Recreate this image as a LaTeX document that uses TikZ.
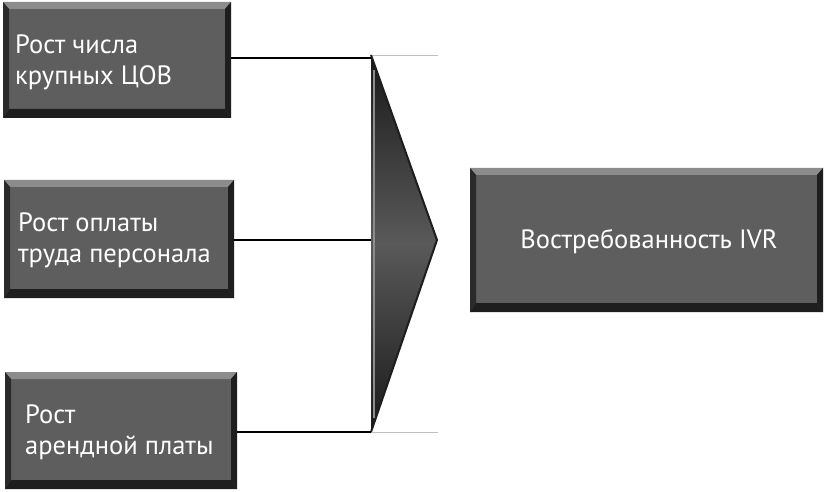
\documentclass[tikz,border=0pt]{standalone}
\usepackage{fontspec}
\setmainfont{PT Sans}
\begin{document}
\begin{tikzpicture}[x=1pt,y=-1pt,
  boxtext/.style={text=white,font=\fontsize{26.5}{31}\selectfont,align=left,anchor=west,inner sep=0pt}]
\definecolor{boxgray}{HTML}{5E5E5E}
\definecolor{boxlight}{HTML}{8C8C8C}
\definecolor{boxdark}{HTML}{1E1E1E}
\useasboundingbox (0,0) rectangle (825,492);
\fill[white] (0,0) rectangle (825,492);
% bevel box macro
\newcommand{\bevbox}[5]{% name, x1,y1,x2,y2
  \fill[boxgray] (#2,#3) rectangle (#4,#5);
  \fill[boxlight] (#2,#3) -- (#4,#3) -- (#4-6,#3+7) -- (#2+6,#3+7) -- cycle;
  \fill[boxdark] (#2,#5) -- (#4,#5) -- (#4-6,#5-9) -- (#2+6,#5-9) -- cycle;
  \fill[boxdark] (#4,#3) -- (#4,#5) -- (#4-6,#5-9) -- (#4-6,#3+7) -- cycle;
  \fill[black!55!boxgray] (#2,#3) -- (#2,#5) -- (#2+6,#5-9) -- (#2+6,#3+7) -- cycle;
  \coordinate (#1) at ({(#2+#4)/2},{(#3+#5)/2});
  \coordinate (#1e) at (#4,{(#3+#5)/2});
  \coordinate (#1w) at (#2,{(#3+#5)/2});
}
\bevbox{b1}{3}{2}{231}{118}
\bevbox{b2}{4}{180}{234}{298}
\bevbox{b3}{5}{372}{237}{489}
\bevbox{b4}{470}{168}{823}{312}
\node[boxtext] (t1) at (15,62) {Рост числа\\крупных ЦОВ};
\node[boxtext] (t2) at (18,240) {Рост оплаты\\труда персонала};
\node[boxtext] (t3) at (25,432) {Рост\\арендной платы};
\node[text=white,font=\fontsize{26.5}{30}\selectfont,inner sep=0pt] (t4) at (649,242) {Востребованность IVR};
% triangle
\coordinate (tt) at (371,55);
\coordinate (tb) at (371,432);
\coordinate (tp) at (437,240);
\draw[black!25,line width=0.8pt] (tt) -- (438,55);
\draw[black!25,line width=0.8pt] (tb) -- (438,432);
\begin{scope}
\clip (tt) -- (tp) -- (tb) -- cycle;
\shade[top color=black!90,bottom color=black!90,middle color=black!65] (360,55) rectangle (440,432);
\end{scope}
\draw[boxdark,line width=2pt,line join=round] (tt) -- (tp) -- (tb);
\draw[black!45,line width=1.2pt] (374,70) -- (374,418);
% connectors
\draw[line width=2pt] (b1e |- 0,58) -- (tt |- 0,58);
\draw[line width=2pt] (b2e |- 0,240) -- (tt |- 0,240);
\draw[line width=2pt] (b3e |- 0,432) -- (tb);
\end{tikzpicture}
\end{document}
